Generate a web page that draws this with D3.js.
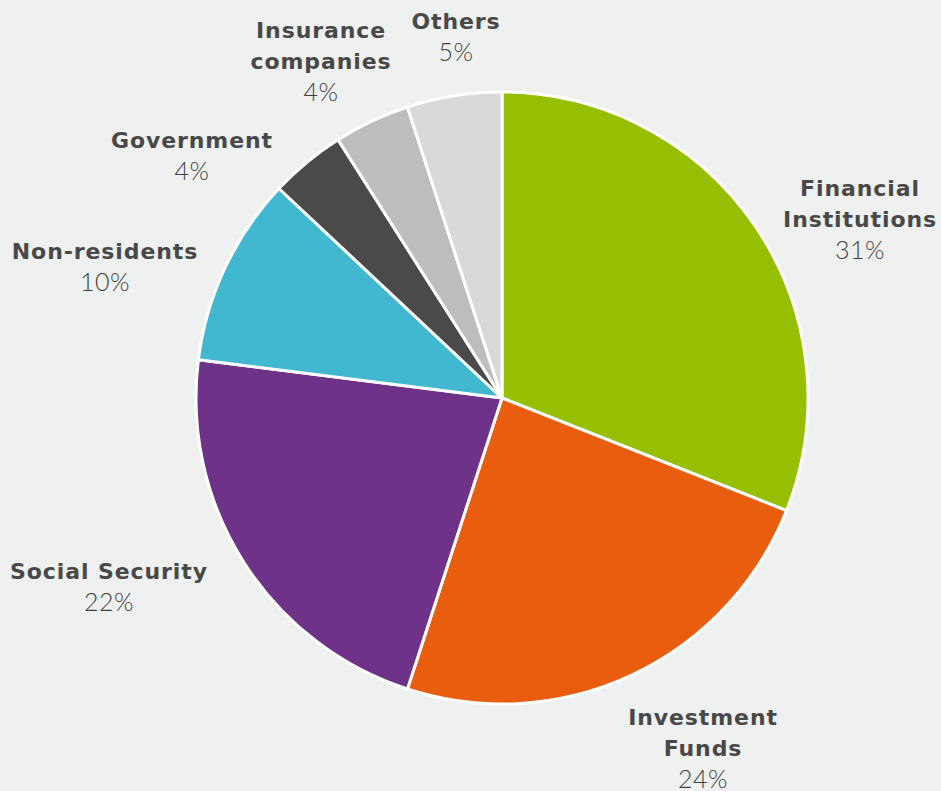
<!DOCTYPE html>
<html>
<head>
<meta charset="utf-8">
<script src="https://cdn.jsdelivr.net/npm/d3@7"></script>
<style>
  html, body { margin: 0; padding: 0; background: #eff0f0; }
  svg { display: block; }
  .name { font-family: "DejaVu Sans", sans-serif; font-weight: bold; fill: #484848; letter-spacing: 0.9px; }
  .pct { font-family: "Lato", "Open Sans", sans-serif; font-weight: 300; fill: #3f3f3f; letter-spacing: 0.5px; }
</style>
</head>
<body>
<svg id="chart" width="941" height="791"></svg>
<script>
// Holders of debt, share of total (%)
const categories = ["Financial Institutions", "Investment Funds", "Social Security",
                    "Non-residents", "Government", "Insurance companies", "Others"];
const shares = [31, 24, 22, 10, 4, 4, 5];
const colors = ["#95bf00", "#e85d0e", "#6e3289", "#41b8cf", "#4a4a4a", "#bdbdbd", "#d9d9d9"];

// Label text split into lines, and label anchor points (centre of the first line)
const labelLines = [["Financial", "Institutions"], ["Investment", "Funds"], ["Social Security"],
                    ["Non-residents"], ["Government"], ["Insurance", "companies"], ["Others"]];
const labelAnchor = [[860, 188], [703, 717], [109, 571], [105, 251], [192, 140], [321, 30], [456, 21]];

const cx = 502, cy = 398, R = 306;
const lineH = 31;

const svg = d3.select("#chart");
const g = svg.append("g").attr("transform", `translate(${cx},${cy})`);

const data = categories.map((c, i) => ({ name: c, value: shares[i], color: colors[i], i }));

const pie = d3.pie().value(d => d.value).sort(null);
const arc = d3.arc().innerRadius(0).outerRadius(R);

g.selectAll("path.slice")
  .data(pie(data))
  .join("path")
  .attr("class", "slice")
  .attr("d", arc)
  .attr("fill", d => d.data.color)
  .attr("stroke", "#ffffff")
  .attr("stroke-width", 3)
  .attr("stroke-linejoin", "round");

// Labels: bold category name lines, then a light percentage line
const labels = svg.selectAll("g.label")
  .data(data)
  .join("g")
  .attr("class", "label")
  .attr("transform", d => `translate(${labelAnchor[d.i][0]},${labelAnchor[d.i][1]})`);

labels.each(function (d) {
  const sel = d3.select(this);
  const lines = labelLines[d.i];
  lines.forEach((t, k) => {
    sel.append("text")
      .attr("class", "name")
      .attr("text-anchor", "middle")
      .attr("dominant-baseline", "central")
      .attr("y", k * lineH)
      .style("font-size", "22px")
      .text(t);
  });
  sel.append("text")
    .attr("class", "pct")
    .attr("text-anchor", "middle")
    .attr("dominant-baseline", "central")
    .attr("y", lines.length * lineH - 1)
    .style("font-size", "25px")
    .text(d3.format("d")(d.value) + "%");
});
</script>
</body>
</html>
